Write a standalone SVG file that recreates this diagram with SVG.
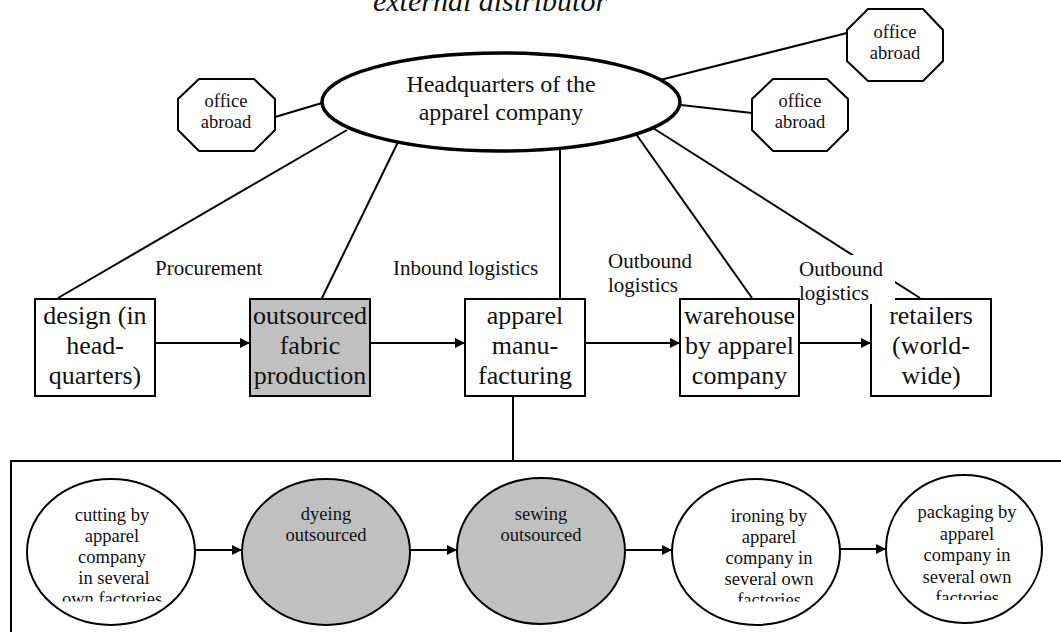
<svg xmlns="http://www.w3.org/2000/svg" width="1061" height="632" viewBox="0 0 1061 632">
  <style>
    text { font-family: "Liberation Serif", "Times New Roman", serif; fill: #111; text-anchor: middle; }
    .title { font-size: 30px; font-style: italic; }
    .hq { font-size: 24px; }
    .office { font-size: 18.5px; }
    .box { font-size: 26px; }
    .lbl { font-size: 21px; text-anchor: start; }
    .step { font-size: 18.5px; }
    .edge { stroke: #000; stroke-width: 2; fill: none; }
    .shape { stroke: #000; stroke-width: 2; fill: #fff; }
    .grey { fill: #c0c0c0; }
  </style>
  <defs>
    <marker id="arrow" viewBox="0 0 10 10" refX="10" refY="5" markerWidth="5" markerHeight="5" markerUnits="strokeWidth" orient="auto">
      <path d="M0,0 L10,5 L0,10 z" fill="#000"/>
    </marker>
    <!-- step labels are clipped at the bottom of their text frame -->
    <clipPath id="stepClip">
      <rect x="0" y="470" width="1061" height="131.5"/>
    </clipPath>
    <clipPath id="stepClipPack">
      <rect x="0" y="470" width="1061" height="130"/>
    </clipPath>
  </defs>

  <rect width="1061" height="632" fill="#fff"/>

  <text class="title" x="490" y="11">external distributor</text>

  <!-- connectors -->
  <g id="connectors">
    <line class="edge" x1="275" y1="117" x2="322" y2="103"/>
    <line class="edge" x1="660" y1="80" x2="847" y2="33"/>
    <line class="edge" x1="681" y1="105" x2="752" y2="113"/>
    <line class="edge" x1="347" y1="130" x2="58" y2="298"/>
    <line class="edge" x1="398" y1="142" x2="322" y2="298"/>
    <line class="edge" x1="560" y1="150" x2="560" y2="298"/>
    <line class="edge" x1="636" y1="134" x2="752" y2="298"/>
    <line class="edge" x1="653" y1="128" x2="920" y2="298"/>
    <line class="edge" x1="155" y1="343" x2="250" y2="343" marker-end="url(#arrow)"/>
    <line class="edge" x1="370" y1="343" x2="465" y2="343" marker-end="url(#arrow)"/>
    <line class="edge" x1="585" y1="343" x2="680" y2="343" marker-end="url(#arrow)"/>
    <line class="edge" x1="799" y1="343" x2="871" y2="343" marker-end="url(#arrow)"/>
    <line class="edge" x1="513" y1="396" x2="513" y2="461"/>
    <line class="edge" x1="195" y1="550" x2="242" y2="550" marker-end="url(#arrow)"/>
    <line class="edge" x1="410" y1="550" x2="457" y2="550" marker-end="url(#arrow)"/>
    <line class="edge" x1="625" y1="550" x2="672" y2="550" marker-end="url(#arrow)"/>
    <line class="edge" x1="840" y1="549" x2="886" y2="549" marker-end="url(#arrow)"/>
  </g>

  <g id="hq">
    <ellipse cx="501" cy="102" rx="179" ry="49" fill="#fff" stroke="#000" stroke-width="3.5"/>
    <text class="hq" x="501" y="92">Headquarters of the</text>
    <text class="hq" x="501" y="120">apparel company</text>
  </g>

  <g id="office-left">
    <polygon class="shape" points="199,79 254,79 275,99 275,130 254,151 199,151 178,130 178,99"/>
    <text class="office" x="226" y="107">office</text>
    <text class="office" x="226" y="128">abroad</text>
  </g>
  <g id="office-top-right">
    <polygon class="shape" points="868,9 923,9 943,30 943,61 923,81 868,81 847,61 847,30"/>
    <text class="office" x="895" y="38">office</text>
    <text class="office" x="895" y="59">abroad</text>
  </g>
  <g id="office-right">
    <polygon class="shape" points="773,79 827,79 848,99 848,130 827,151 773,151 752,130 752,99"/>
    <text class="office" x="800" y="107">office</text>
    <text class="office" x="800" y="128">abroad</text>
  </g>

  <g id="design">
    <rect class="shape" x="35" y="299" width="120" height="97"/>
    <text class="box" x="95" y="324">design (in</text>
    <text class="box" x="95" y="354">head-</text>
    <text class="box" x="95" y="384">quarters)</text>
  </g>
  <g id="fabric">
    <rect class="shape grey" x="250" y="299" width="120" height="97"/>
    <text class="box" x="310" y="324">outsourced</text>
    <text class="box" x="310" y="354">fabric</text>
    <text class="box" x="310" y="384">production</text>
  </g>
  <g id="manufacturing">
    <rect class="shape" x="465" y="299" width="120" height="97"/>
    <text class="box" x="525" y="324">apparel</text>
    <text class="box" x="525" y="354">manu-</text>
    <text class="box" x="525" y="384">facturing</text>
  </g>
  <g id="warehouse">
    <rect class="shape" x="680" y="299" width="119" height="97"/>
    <text class="box" x="739.5" y="324">warehouse</text>
    <text class="box" x="739.5" y="354">by apparel</text>
    <text class="box" x="739.5" y="384">company</text>
  </g>
  <g id="retailers">
    <rect class="shape" x="871" y="299" width="120" height="97"/>
    <text class="box" x="931" y="324">retailers</text>
    <text class="box" x="931" y="354">(world-</text>
    <text class="box" x="931" y="384">wide)</text>
  </g>

  <g id="labels">
    <text class="lbl" x="155" y="275">Procurement</text>
    <text class="lbl" x="393" y="275">Inbound logistics</text>
    <text class="lbl" x="608" y="268">Outbound</text>
    <text class="lbl" x="608" y="292">logistics</text>
    <!-- opaque frame behind the second label -->
    <rect x="800" y="255" width="95" height="49" fill="#fff"/>
    <text class="lbl" x="799" y="276">Outbound</text>
    <text class="lbl" x="799" y="300">logistics</text>
  </g>

  <g id="manufacturing-steps">
    <rect x="11" y="461" width="1100" height="300" fill="none" stroke="#000" stroke-width="2"/>
  </g>

  <g id="cutting">
    <ellipse class="shape" cx="111" cy="552" rx="84" ry="73"/>
    <g clip-path="url(#stepClip)">
      <text class="step" x="112" y="521">cutting by</text>
      <text class="step" x="112" y="542">apparel</text>
      <text class="step" x="112" y="563">company</text>
      <text class="step" x="114" y="584">in several</text>
      <text class="step" x="112" y="605">own factories</text>
    </g>
  </g>
  <g id="dyeing">
    <ellipse class="shape grey" cx="326" cy="552" rx="84" ry="73"/>
    <text class="step" x="326" y="520">dyeing</text>
    <text class="step" x="326" y="541">outsourced</text>
  </g>
  <g id="sewing">
    <ellipse class="shape grey" cx="541" cy="551" rx="84" ry="73"/>
    <text class="step" x="541" y="520">sewing</text>
    <text class="step" x="541" y="541">outsourced</text>
  </g>
  <g id="ironing">
    <ellipse class="shape" cx="756" cy="552" rx="84" ry="73"/>
    <g clip-path="url(#stepClip)">
      <text class="step" x="769" y="522">ironing by</text>
      <text class="step" x="769" y="543">apparel</text>
      <text class="step" x="769" y="564">company in</text>
      <text class="step" x="769" y="585">several own</text>
      <text class="step" x="769" y="606">factories</text>
    </g>
  </g>
  <g id="packaging">
    <ellipse class="shape" cx="964" cy="549" rx="78" ry="74"/>
    <g clip-path="url(#stepClipPack)">
      <text class="step" x="967" y="518">packaging by</text>
      <text class="step" x="967" y="539.5">apparel</text>
      <text class="step" x="967" y="561">company in</text>
      <text class="step" x="967" y="582.5">several own</text>
      <text class="step" x="967" y="604">factories</text>
    </g>
  </g>
</svg>
